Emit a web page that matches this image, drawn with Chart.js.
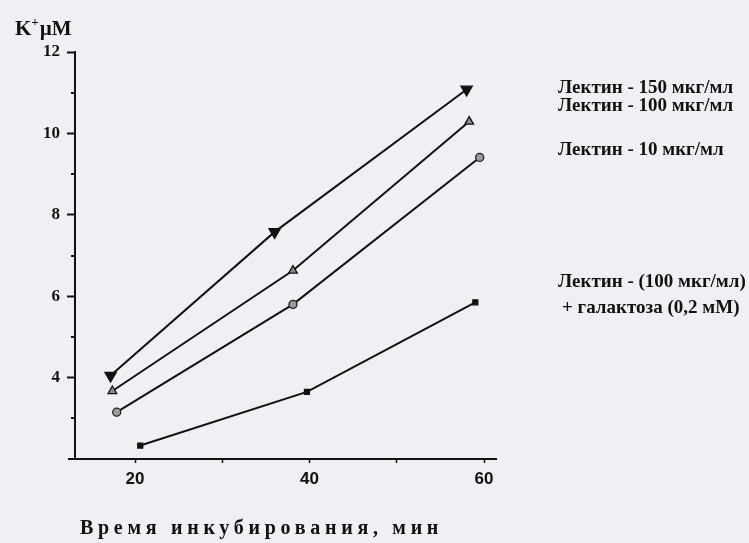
<!DOCTYPE html>
<html>
<head>
<meta charset="utf-8">
<script src="https://cdn.jsdelivr.net/npm/chart.js@4.4.1/dist/chart.umd.min.js"></script>
<style>
  html, body { margin: 0; padding: 0; background: #eef0f3; }
  #wrap { width: 749px; height: 543px; position: relative; }
</style>
</head>
<body>
<div id="wrap"><canvas id="c" width="749" height="543"></canvas></div>
<script>
// Incubation time, min
const lectin150Time = [17.2, 36.0, 58.0];
const lectin100Time = [17.4, 38.1, 58.3];
const lectin10Time  = [17.9, 38.1, 59.5];
const lectinGalTime = [20.6, 39.7, 59.0];

// K+ concentration, µM
const lectin150K = [4.05, 7.58, 11.08];
const lectin100K = [3.67, 6.63, 10.29];
const lectin10K  = [3.15, 5.80, 9.41];
const lectinGalK = [2.33, 3.65, 5.85];

const seriesNames = [
  ['Лектин - 150 мкг/мл'],
  ['Лектин - 100 мкг/мл'],
  ['Лектин - 10 мкг/мл'],
  ['Лектин - (100 мкг/мл)', '+ галактоза (0,2 мМ)']
];

const xTickValues = [20, 30, 40, 50, 60];
const xTickLabels = { 20: '20', 40: '40', 60: '60' };
const yTickValues = [3, 4, 5, 6, 7, 8, 9, 10, 11, 12];
const yTickLabels = { 4: '4', 6: '6', 8: '8', 10: '10', 12: '12' };

const yTitle = { main: 'K', sup: '+', rest: 'µM' };
const xTitle = 'Время инкубирования, мин';

const INK = '#111111';
const SERIF = '"Liberation Serif", "DejaVu Serif", serif';
const SANS = '"Liberation Sans", Arial, sans-serif';

function toPoints(xs, ys) {
  return xs.map((x, i) => ({ x: x, y: ys[i] }));
}

const datasets = [
  { label: seriesNames[0].join(' '), data: toPoints(lectin150Time, lectin150K),
    pointStyle: 'triangle', rotation: 180, pointRadius: 6.5,
    pointBackgroundColor: INK, pointBorderColor: INK },
  { label: seriesNames[1].join(' '), data: toPoints(lectin100Time, lectin100K),
    pointStyle: 'triangle', rotation: 0, pointRadius: 5,
    pointBackgroundColor: '#8a8c90', pointBorderColor: INK },
  { label: seriesNames[2].join(' '), data: toPoints(lectin10Time, lectin10K),
    pointStyle: 'circle', pointRadius: 4,
    pointBackgroundColor: '#9a9ca0', pointBorderColor: '#222' },
  { label: seriesNames[3].join(' '), data: toPoints(lectinGalTime, lectinGalK),
    pointStyle: 'rect', pointRadius: 3.5,
    pointBackgroundColor: INK, pointBorderColor: INK }
].map(d => Object.assign({
  borderColor: INK, borderWidth: 2, tension: 0, fill: false,
  pointBorderWidth: 1.3, showLine: true
}, d));

// Page tint, odd-value y ticks, axis titles and series captions
const decorations = {
  id: 'decorations',
  beforeDraw(chart) {
    const ctx = chart.ctx;
    ctx.save();
    ctx.fillStyle = '#eef0f3';
    ctx.fillRect(0, 0, chart.width, chart.height);
    ctx.restore();
  },
  afterDraw(chart) {
    const ctx = chart.ctx;
    const area = chart.chartArea;
    const ys = chart.scales.y;
    ctx.save();
    ctx.strokeStyle = INK;
    ctx.lineWidth = 2;

    // short ticks at odd y values
    yTickValues.filter(v => v % 2 === 1).forEach(v => {
      const py = Math.round(ys.getPixelForValue(v));
      ctx.beginPath();
      ctx.moveTo(area.left - 4, py);
      ctx.lineTo(area.left, py);
      ctx.stroke();
    });

    // x axis runs a little past the y axis
    const by = area.bottom;
    ctx.beginPath();
    ctx.moveTo(area.left - 7, by);
    ctx.lineTo(area.left, by);
    ctx.stroke();

    // y axis title: K+ µM
    ctx.fillStyle = INK;
    ctx.textBaseline = 'alphabetic';
    ctx.textAlign = 'left';
    ctx.font = 'bold 21px ' + SERIF;
    let tx = area.left - 60;
    const ty = area.top - 17;
    ctx.fillText(yTitle.main, tx, ty);
    tx += ctx.measureText(yTitle.main).width;
    ctx.font = 'bold 13px ' + SERIF;
    ctx.fillText(yTitle.sup, tx, ty - 9);
    tx += ctx.measureText(yTitle.sup).width + 1;
    ctx.font = 'bold 21px ' + SERIF;
    ctx.fillText(yTitle.rest, tx, ty);

    // x axis title, letter-spaced
    ctx.font = 'bold 20px ' + SERIF;
    ctx.letterSpacing = '4.7px';
    ctx.textBaseline = 'middle';
    ctx.fillText(xTitle, 80, 529);
    ctx.letterSpacing = '0px';

    // series captions at the right
    ctx.font = 'bold 19px ' + SERIF;
    const captionX = 558;
    const captionY = [88, 106, 150, 282];
    seriesNames.forEach((lines, i) => {
      lines.forEach((line, j) => {
        ctx.fillText(line, captionX + (j > 0 ? 4 : 0), captionY[i] + j * 26);
      });
    });
    ctx.restore();
  }
};

new Chart(document.getElementById('c'), {
  type: 'scatter',
  data: { datasets: datasets },
  plugins: [decorations],
  options: {
    responsive: false,
    animation: false,
    events: [],
    layout: { padding: { top: 52, right: 253, left: 0, bottom: 0 } },
    plugins: { legend: { display: false }, tooltip: { enabled: false }, title: { display: false } },
    scales: {
      x: {
        type: 'linear',
        min: 13.12,
        max: 61.37,
        afterBuildTicks: s => { s.ticks = xTickValues.map(v => ({ value: v })); },
        afterFit: s => { s.height = 84; },
        ticks: {
          autoSkip: false, maxRotation: 0, padding: 6, color: INK,
          font: { family: SANS, size: 17, weight: 'bold' },
          callback: v => xTickLabels[v] || ''
        },
        grid: { drawOnChartArea: false, drawTicks: true, tickLength: 4, tickWidth: 1.5, tickColor: INK },
        border: { display: true, color: INK, width: 2 }
      },
      y: {
        type: 'linear',
        min: 2,
        max: 12,
        afterBuildTicks: s => { s.ticks = yTickValues.map(v => ({ value: v })); },
        afterFit: s => { s.width = 75; },
        ticks: {
          autoSkip: false, padding: 7, color: INK,
          font: { family: SERIF, size: 17, weight: 'bold' },
          callback: v => yTickLabels[v] || ''
        },
        grid: {
          drawOnChartArea: false, drawTicks: true, tickLength: 8, tickWidth: 2,
          tickColor: c => (c.tick && c.tick.value % 2 === 0) ? INK : 'rgba(0,0,0,0)'
        },
        border: { display: true, color: INK, width: 2 }
      }
    }
  }
});
</script>
</body>
</html>
